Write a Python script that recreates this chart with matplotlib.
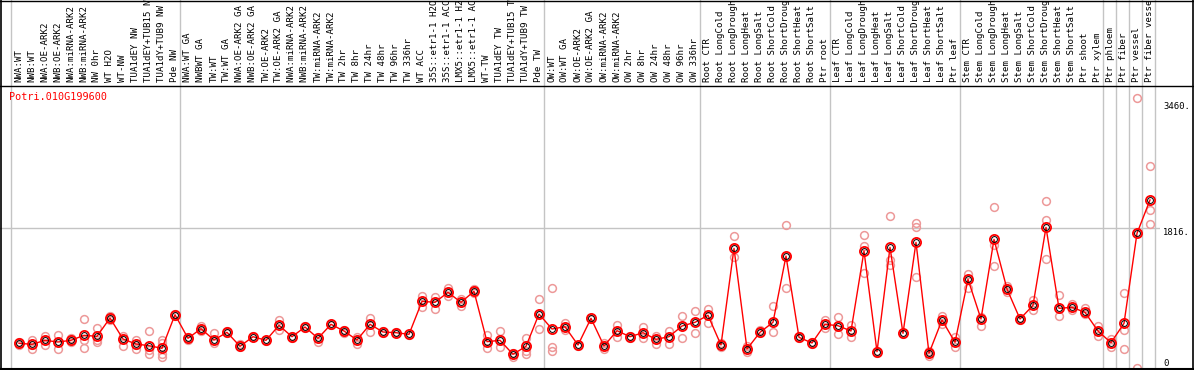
import matplotlib
matplotlib.use('Agg')
import matplotlib.pyplot as plt
from matplotlib.lines import Line2D
import matplotlib.transforms as mtransforms

# ---------------- data ----------------
categories = [
    "NWA:WT", "NWB:WT", "NWA:OE-ARK2", "NWB:OE-ARK2", "NWA:miRNA-ARK2", "NWB:miRNA-ARK2",
    "NW 0hr", "WT H2O", "WT-NW", "TUA1dEY NW", "TUA1dEY+TUB15 NW", "TUA1dY+TUB9 NW", "Pde NW",
    "NWA:WT GA", "NWBWT GA", "TW:WT", "TW:WT GA", "NWA:OE-ARK2 GA", "NWB:OE-ARK2 GA",
    "TW:OE-ARK2", "TW:OE-ARK2 GA", "NWA:miRNA-ARK2 GA", "NWB:miRNA-ARK2 GA", "TW:miRNA-ARK2",
    "TW:miRNA-ARK2", "TW 2hr", "TW 8hr", "TW 24hr", "TW 48hr", "TW 96hr", "TW 336hr", "WT ACC",
    "35S::etr1-1 H2O", "35S::etr1-1 ACC", "LMX5::etr1-1 H2O", "LMX5::etr1-1 ACC", "WT-TW",
    "TUA1dEY TW", "TUA1dEY+TUB15 TW", "TUA1dY+TUB9 TW", "Pde TW",
    "OW:WT", "OW:WT GA", "OW:OE-ARK2", "OW:OE-ARK2 GA", "OW:miRNA-ARK2", "OW:miRNA-ARK2",
    "OW 2hr", "OW 8hr", "OW 24hr", "OW 48hr", "OW 96hr", "OW 336hr",
    "Root CTR", "Root LongCold", "Root LongDrought", "Root LongHeat", "Root LongSalt",
    "Root ShortCold", "Root ShortDrought", "Root ShortHeat", "Root ShortSalt", "Ptr root",
    "Leaf CTR", "Leaf LongCold", "Leaf LongDrought", "Leaf LongHeat", "Leaf LongSalt",
    "Leaf ShortCold", "Leaf ShortDrought", "Leaf ShortHeat", "Leaf ShortSalt", "Ptr leaf",
    "Stem CTR", "Stem LongCold", "Stem LongDrought", "Stem LongHeat", "Stem LongSalt",
    "Stem ShortCold", "Stem ShortDrought", "Stem ShortHeat", "Stem ShortSalt", "Ptr shoot",
    "Ptr xylem", "Ptr phloem", "Ptr fiber", "Ptr vessel", "Ptr fiber vessel",
]

means = [
    321, 308, 360, 338, 360, 425, 412, 650, 377, 312, 290, 256, 693,
    386, 511, 364, 464, 282, 407, 360, 555, 407, 533, 386, 568, 481, 364, 568, 468, 459,
    438, 867, 854, 984, 854, 997, 342, 360, 178, 282, 702,
    507, 537, 299, 646, 286, 485, 407, 459, 373, 407, 546, 594,
    685, 299, 1556, 247, 464, 594, 1456, 399, 325, 568,
    550, 481, 1521, 212, 1569, 451, 1634, 191, 624, 334,
    1153, 637, 1673, 1027, 637, 815, 1829, 776, 789, 724,
    481, 329, 581, 1751, 2185,
]

replicates = [
    [300, 321, 340], [364, 300, 247], [420, 360, 299], [429, 338, 243], [390, 360, 340],
    [633, 364, 264], [516, 360, 334], [680, 650, 620], [420, 377, 282], [364, 300, 243],
    [481, 230, 182], [364, 320, 182, 139], [693, 680, 700],
    [386, 370, 400], [550, 511, 480], [451, 364, 320], [480, 464, 450], [316, 282, 270],
    [407, 400, 415], [360, 350, 370], [624, 555, 490], [420, 407, 395], [545, 533, 520],
    [386, 342, 400], [575, 568, 560], [481, 460, 490], [400, 364, 312], [646, 568, 472],
    [468, 460, 475], [459, 450, 465], [438, 430, 445], [936, 867, 797], [920, 854, 763],
    [1040, 984, 930], [900, 854, 800], [1030, 997, 980], [429, 342, 256], [477, 360, 277],
    [200, 178, 140], [386, 300, 182, 220], [893, 702, 503],
    [1040, 269, 225], [580, 537, 490], [299, 290, 305], [646, 640, 655], [320, 286, 250],
    [559, 485, 407], [407, 390, 420], [537, 459, 386], [420, 373, 312], [480, 407, 312],
    [676, 546, 386], [741, 594, 451],
    [763, 685, 581], [299, 270, 320], [1716, 1556, 1447], [290, 247, 210], [500, 464, 450],
    [806, 594, 472], [1860, 1456, 1036], [399, 390, 410], [325, 310, 340], [620, 568, 520],
    [667, 550, 440], [560, 481, 407], [1730, 1590, 1240], [212, 200, 225], [1977, 1404, 1339],
    [451, 440, 460], [1881, 1840, 1179], [191, 160, 220], [680, 624, 570], [400, 334, 270],
    [1222, 1153, 1036], [660, 637, 550], [2089, 1600, 1326], [1060, 1027, 990], [637, 630, 645],
    [880, 815, 750], [2172, 1925, 1413], [949, 776, 680], [830, 789, 760], [780, 724, 700],
    [540, 481, 420], [380, 329, 269], [971, 500, 243], [3507, 1751, 0], [2627, 2055, 1873],
]

group_ends = [-1, 12, 40, 52, 62, 72, 83, 84, 85, 86, 87]
gene_id = "Potri.010G199600"
ytick_values = [3460, 1816, 0]
ytick_labels = ["3460.", "1816.", "0"]

# ---------------- layout ----------------
W, H = 1194, 370
fig = plt.figure(figsize=(W / 100, H / 100), dpi=100)
fig.patch.set_facecolor('white')

ax_right_px, ax_top_px, ax_bot_px = 1160, 85, 368
ax = fig.add_axes([0, (H - ax_bot_px) / H, ax_right_px / W, (ax_bot_px - ax_top_px) / H])
step = 13.0
x0 = 19.0
ax.set_xlim(-x0 / step, (ax_right_px - x0) / step)
ax.set_ylim(0, (ax_bot_px - ax_top_px) / 0.0769)
ax.axis('off')

MONO = 'DejaVu Sans Mono'
grid_col = '#c4c4c4'
rep_col = (0.93, 0.60, 0.60)

xs = list(range(len(categories)))

# group separator lines (full figure height)
top_frac = 1 + (ax_top_px) / (ax_bot_px - ax_top_px) + 0.02
for g in group_ends:
    ax.axvline(g + 0.385, ymin=-0.02, ymax=top_frac, color=grid_col, lw=1.0,
               clip_on=False, zorder=0)

# horizontal gridline
ax.axhline(1816, color=grid_col, lw=1.0, zorder=0)

# category labels
lab_y = 1 + 3 / (ax_bot_px - ax_top_px)
for i, lab in enumerate(categories):
    ax.text(i, lab_y, lab, rotation=90, ha='center', va='bottom', fontsize=6.6,
            family=MONO, transform=mtransforms.blended_transform_factory(ax.transData, ax.transAxes),
            clip_on=False)

# replicates
for i, reps in enumerate(replicates):
    ax.plot([i] * len(reps), reps, 'o', mfc='none', mec=rep_col, ms=5.6, mew=1.1, zorder=2)

# means
ax.plot(xs, means, '-', color='red', lw=1.0, zorder=3)
ax.plot(xs, means, 'o', mfc='none', mec='red', ms=6.6, mew=1.3, zorder=4, clip_on=False)
ax.plot(xs, means, 'o', mfc='none', mec='black', ms=4.2, mew=0.7, zorder=5, clip_on=False)

# right value labels
xr = (1163 - x0) / step
for v, t in zip(ytick_values, ytick_labels):
    ax.text(xr, v, t, ha='left', va='bottom' if v == 0 else 'top', fontsize=6.4,
            family=MONO, clip_on=False)

# gene id
fig.text(9 / W, 1 - 97 / H, gene_id, color='red', fontsize=7.3, family=MONO,
         ha='left', va='center')

# frame lines
def hline(y, lw=1.0):
    fig.add_artist(Line2D([0, 1], [1 - y / H, 1 - y / H], color='black', lw=lw,
                          transform=fig.transFigure))

def vline(x, lw=1.0):
    fig.add_artist(Line2D([x / W, x / W], [0, 1], color='black', lw=lw,
                          transform=fig.transFigure))

hline(0.5)
hline(85.5)
hline(368.8, lw=1.5)
vline(0.8, lw=1.2)
vline(1193.4, lw=1.2)

fig.savefig('out.png', dpi=100, facecolor='white')
